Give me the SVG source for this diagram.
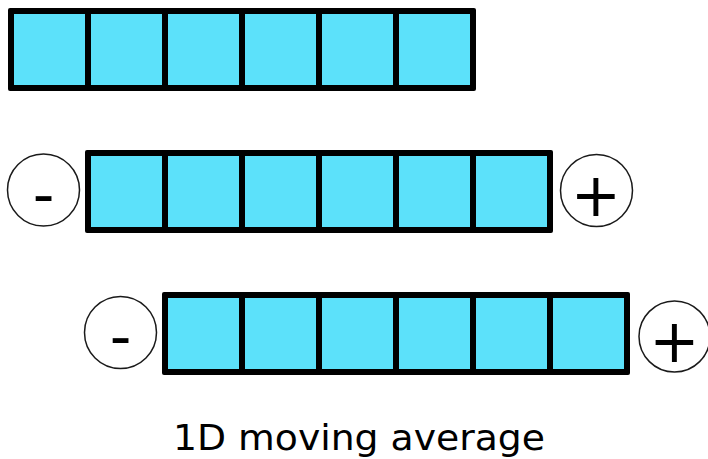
<svg xmlns="http://www.w3.org/2000/svg" width="708" height="459" viewBox="0 0 708 459">
<defs>
<style>
.frame{fill:#000}
.cell{fill:#5ce1fa}
.circ{fill:#fff;stroke:#1a1a1a;stroke-width:1.5}
.sign{font-family:"DejaVu Sans",Verdana,sans-serif;font-size:60px;fill:#000;text-anchor:middle}
.cap{font-family:"DejaVu Sans",Verdana,sans-serif;font-size:35px;fill:#000;text-anchor:middle}
</style>
<g id="strip">
<rect class="frame" x="0" y="0" width="468" height="83" rx="2"/>
<rect class="cell" x="6" y="6" width="71" height="71"/>
<rect class="cell" x="83" y="6" width="71" height="71"/>
<rect class="cell" x="160" y="6" width="71" height="71"/>
<rect class="cell" x="237" y="6" width="71" height="71"/>
<rect class="cell" x="314" y="6" width="71" height="71"/>
<rect class="cell" x="391" y="6" width="71" height="71"/>
</g>
</defs>
<rect width="708" height="459" fill="#fff"/>
<g id="row1"><use href="#strip" x="8" y="8"/></g>
<g id="row2"><use href="#strip" x="85" y="150"/></g>
<g id="row3"><use href="#strip" x="162" y="292"/></g>
<g id="minus2"><circle class="circ" cx="43.5" cy="190" r="36"/><text class="sign" x="43.5" y="215">-</text></g>
<g id="plus2"><circle class="circ" cx="596.5" cy="190.5" r="36"/><text class="sign" x="596" y="216">+</text></g>
<g id="minus3"><circle class="circ" cx="120.5" cy="332.5" r="36"/><text class="sign" x="120.5" y="357">-</text></g>
<g id="plus3"><circle class="circ" cx="674.5" cy="336.5" r="35.5"/><text class="sign" x="674.5" y="362">+</text></g>
<g id="connectors"/>
<g id="caption"><text class="cap" x="359" y="450" textLength="372" lengthAdjust="spacingAndGlyphs">1D moving average</text></g>
</svg>
